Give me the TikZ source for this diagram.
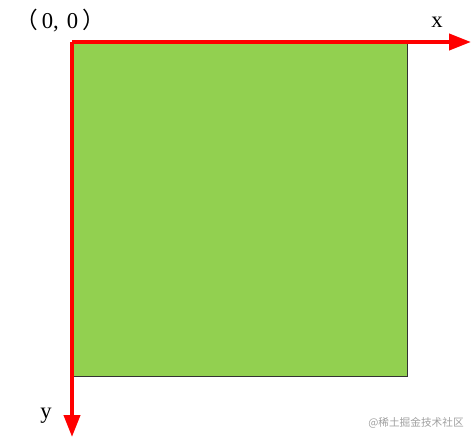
\documentclass[tikz,border=0pt]{standalone}
\usepackage{fontspec}
\setmainfont{Liberation Serif}
\newfontfamily\cjk{Noto Sans CJK SC}
\usepackage{tikz}
\usetikzlibrary{arrows.meta, positioning}
\definecolor{leafgreen}{RGB}{146,208,80}
\definecolor{markgray}{RGB}{160,160,160}

\begin{document}
\begin{tikzpicture}[x=0.75pt, y=-0.75pt, >=Stealth]
    \tikzset{
        axis/.style={draw=red, line width=3pt,
            -{Triangle[length=16.5pt, width=12pt]}},
        canvas/.style={fill=leafgreen, draw=black!80, line width=0.5pt},
        lbl/.style={inner sep=0pt, font=\fontsize{17}{20}\selectfont},
    }
    \useasboundingbox (0,0) rectangle (473,440);

    % origin and axis ends
    \coordinate (O) at (72,42);
    \coordinate (xend) at (471,42);
    \coordinate (yend) at (72,437);

    \filldraw[canvas] (O) rectangle (407,376);

    \draw[axis] (O) -- (xend);
    \draw[axis] (O) -- (yend);

    \node[lbl] (origin) at (60,21)
        {{\cjk （}\hspace{3pt}0,\hspace{6pt}0\hspace{3pt}{\cjk ）}};
    \node[lbl] (xlbl) at (437,22) {x};
    \node[lbl] (ylbl) at (46,416) {y};

    \node[inner sep=0pt, text=markgray, font=\cjk\fontsize{8}{10}\selectfont]
        (mark) at (416,423) {@稀土掘金技术社区};
\end{tikzpicture}
\end{document}
